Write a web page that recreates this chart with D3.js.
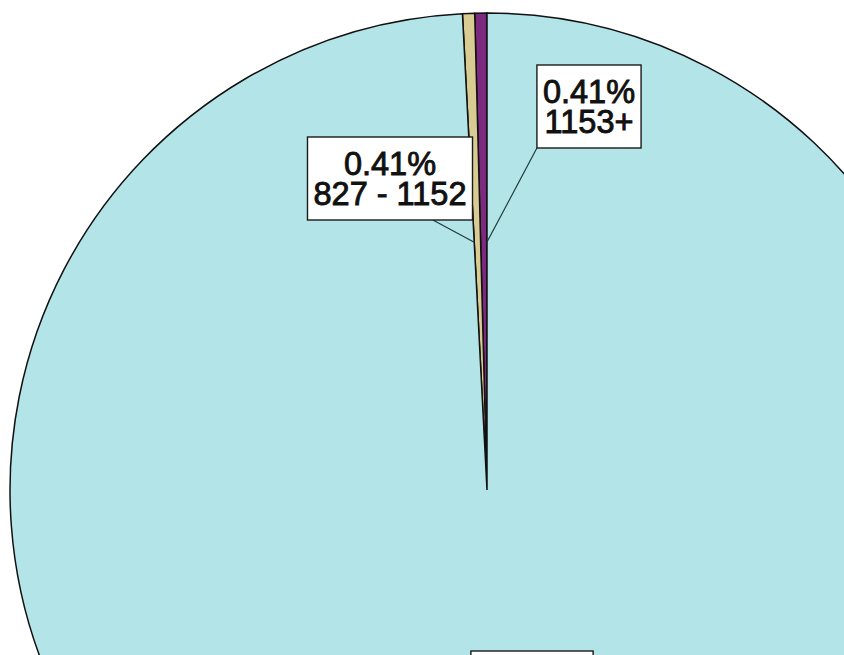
<!DOCTYPE html>
<html>
<head>
<meta charset="utf-8">
<script src="https://cdn.jsdelivr.net/npm/d3@7/dist/d3.min.js"></script>
<style>
  html, body { margin: 0; padding: 0; background: #ffffff; }
  svg { display: block; }
</style>
</head>
<body>
<svg id="chart" width="844" height="655"></svg>
<script>
// Share of records by size band (percent)
const categories = ["1153+", "827 - 1152", "0 - 826"];
const percents = [0.41, 0.41, 99.18];
const sliceColors = ["#7b2a80", "#d8cc92", "#b3e5e8"];

// Label placement: box centre x, box top y, and where along the box bottom the leader leaves (0 = left, 1 = right)
const labelCx = [589, 390, 532];
const labelTop = [65, 137, 651];
const leaderFrom = [0, 0.76, 0.5];

const width = 844, height = 655;
const cx = 487, cy = 490, radius = 477;

const svg = d3.select("#chart");
const g = svg.append("g").attr("transform", `translate(${cx},${cy})`);

const data = categories.map((c, i) => ({ category: c, value: percents[i], color: sliceColors[i], i }));

// Slices run counter-clockwise from twelve o'clock
const pie = d3.pie().value(d => d.value).sort(null).startAngle(0).endAngle(-2 * Math.PI);
const arcs = pie(data);
const arc = d3.arc().innerRadius(0).outerRadius(radius);

g.selectAll("path.slice")
  .data(arcs)
  .join("path")
  .attr("class", "slice")
  .attr("d", arc)
  .attr("fill", d => d.data.color)
  .attr("stroke", "#111")
  .attr("stroke-width", 1.5)
  .attr("stroke-linejoin", "miter");

// Labels with leader lines
const fontSize = 32.5, lineGap = 30, pad = 6, boxH = 83;
const labels = svg.append("g");

arcs.forEach((a, i) => {
  const boxCx = labelCx[i], top = labelTop[i];
  const lines = [a.data.value.toFixed(2) + "%", a.data.category];

  const grp = labels.append("g");
  const rect = grp.append("rect")
    .attr("fill", "#ffffff")
    .attr("stroke", "#1a1a1a")
    .attr("stroke-width", 1.4);
  const text = grp.append("text")
    .attr("text-anchor", "middle")
    .attr("font-family", "'Liberation Sans', Arial, sans-serif")
    .attr("font-size", fontSize)
    .attr("fill", "#111")
    .attr("stroke", "#111")
    .attr("stroke-width", 0.9);
  lines.forEach((t, k) => {
    text.append("tspan").attr("x", boxCx).attr("y", top + 38 + k * lineGap).text(t);
  });
  let w = 0;
  text.selectAll("tspan").each(function () { w = Math.max(w, this.getComputedTextLength()); });
  const boxW = w + 2 * pad;
  rect.attr("x", boxCx - boxW / 2).attr("y", top).attr("width", boxW).attr("height", boxH);

  // Leader touches the slice boundary that faces the label, halfway out
  const labelRight = boxCx > cx;
  const edge = labelRight ? Math.max(a.startAngle, a.endAngle) : Math.min(a.startAngle, a.endAngle);
  const r = radius * 0.52;
  const px = cx + r * Math.sin(edge), py = cy - r * Math.cos(edge);
  const sx = boxCx - boxW / 2 + leaderFrom[i] * boxW, sy = top + boxH;
  if (i < 2) {
    labels.insert("line", ":first-child")
      .attr("x1", sx).attr("y1", sy).attr("x2", px).attr("y2", py)
      .attr("stroke", "#1f3a3a").attr("stroke-width", 1.2);
  }
});
</script>
</body>
</html>
